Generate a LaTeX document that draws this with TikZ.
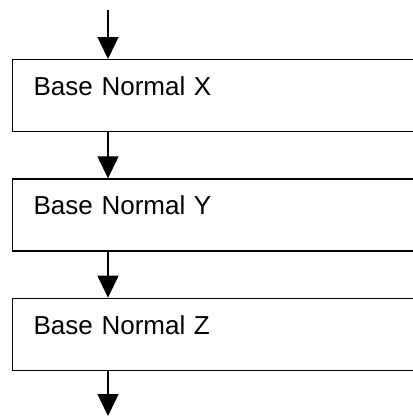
\documentclass[tikz,border=0pt]{standalone}
\usepackage{fontspec}
\setmainfont{Liberation Sans}
\usetikzlibrary{positioning, arrows.meta}
\definecolor{inkblack}{RGB}{0,0,0}
\tikzset{
  stagebox/.style={draw=inkblack, line width=1.3pt, rectangle, anchor=north west,
    text width=366pt, align=left, inner xsep=21pt, inner ysep=18pt,
    text height=18pt, text depth=18pt, font=\fontsize{26}{30}\selectfont},
  flow/.style={draw=inkblack, line width=1.3pt, -{Triangle[length=22pt, width=21pt]}},
}

\begin{document}
\begin{tikzpicture}[x=1pt, y=-1pt]

\useasboundingbox (0,0) rectangle (413,416);

% ============================================================ boxes
\node[stagebox] (normx) at (12, 59) {Base Normal X};
\node[stagebox, below=46pt of normx] (normy) {Base Normal Y};
\node[stagebox, below=46pt of normy] (normz) {Base Normal Z};

% ============================================================ arrows
\coordinate (inlet)  at (108, 10);
\coordinate (outlet) at (108, 416);
\draw[flow] (inlet) -- (inlet |- normx.north);
\draw[flow] (inlet |- normx.south) -- (inlet |- normy.north);
\draw[flow] (inlet |- normy.south) -- (inlet |- normz.north);
\draw[flow] (inlet |- normz.south) -- (outlet);

\end{tikzpicture}
\end{document}
